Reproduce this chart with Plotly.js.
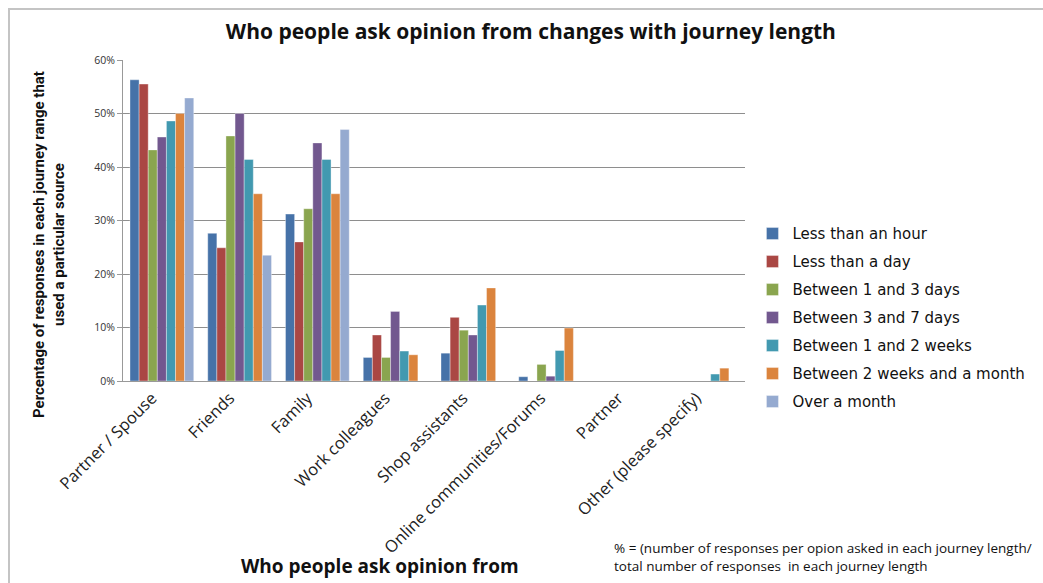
<!DOCTYPE html>
<html>
<head>
<meta charset="utf-8">
<script src="https://cdn.plot.ly/plotly-3.0.1.min.js"></script>
<style>
html,body{margin:0;padding:0;background:#fff;}
#wrap{position:relative;width:1043px;height:583px;overflow:hidden;}
#frame{position:absolute;left:8px;top:8px;width:1100px;height:700px;border:2px solid #c4c4c4;box-sizing:border-box;}
#chart{position:absolute;left:0;top:0;width:1043px;height:583px;}
</style>
</head>
<body>
<div id="wrap"><div id="frame"></div><div id="chart"></div></div>
<script>
const categories = ["Partner / Spouse","Friends","Family","Work colleagues","Shop assistants","Online communities/Forums","Partner","Other (please specify)"];
const seriesNames = ["Less than an hour","Less than a day","Between 1 and 3 days","Between 3 and 7 days","Between 1 and 2 weeks","Between 2 weeks and a month","Over a month"];
const lessThanHour   = [0.563,0.276,0.312,0.044,0.052,0.008,0,0];
const lessThanDay    = [0.555,0.249,0.260,0.086,0.119,0,0,0];
const between1and3d  = [0.432,0.458,0.322,0.044,0.095,0.031,0,0];
const between3and7d  = [0.456,0.500,0.445,0.130,0.086,0.009,0,0];
const between1and2w  = [0.486,0.414,0.414,0.056,0.142,0.057,0,0.013];
const between2wand1m = [0.500,0.350,0.350,0.049,0.174,0.099,0,0.024];
const overMonth      = [0.529,0.235,0.470,0,0,0,0,0];
const yTickVals = [0,0.1,0.2,0.3,0.4,0.5,0.6];
const yTickText = ["0%","10%","20%","30%","40%","50%","60%"];

const seriesValues = [lessThanHour,lessThanDay,between1and3d,between3and7d,between1and2w,between2wand1m,overMonth];
const colors = ["#4672A8","#AA4744","#8AA54F","#72588F","#4299B0","#DB843D","#95AAD0"];

const traces = seriesValues.map((vals,i)=>({
  type:"bar",
  name:seriesNames[i],
  x:categories,
  y:vals,
  legendgroup:"g"+i,
  marker:{color:colors[i],line:{color:"rgba(255,255,255,0.6)",width:0.6}},
  hoverinfo:"x+y+name"
}));

const layout = {
  width:1043,height:583,
  paper_bgcolor:"rgba(0,0,0,0)",
  plot_bgcolor:"rgba(0,0,0,0)",
  margin:{l:123,r:298,t:60,b:202,autoexpand:false},
  barmode:"group",
  bargap:0.18,
  bargroupgap:0,
  font:{family:"Open Sans, sans-serif",color:"#111"},
  title:{text:"<b>Who people ask opinion from changes with journey length</b>",
         font:{family:"Open Sans, sans-serif",size:21,color:"#111"},
         x:0.509,xanchor:"center",y:0.945,yanchor:"middle"},
  xaxis:{
    type:"category",
    tickangle:-45,
    ticklabelshift:-10,
    tickfont:{family:"Open Sans, sans-serif",size:16.5,color:"#222"},
    showline:true,linecolor:"#999",linewidth:1,
    ticks:"",showgrid:false
  },
  yaxis:{
    range:[0,0.6],
    tickvals:yTickVals,ticktext:yTickText,
    tickfont:{family:"Open Sans, sans-serif",size:10.5,color:"#333"},
    showgrid:true,gridcolor:"#8e8e8e",gridwidth:1,
    showline:true,linecolor:"#999",linewidth:1,
    ticks:"outside",ticklen:5,tickcolor:"#999",
    zeroline:false
  },
  legend:{
    x:1.012,xanchor:"left",y:0.51,yanchor:"top",
    font:{family:"DejaVu Sans, sans-serif",size:15,color:"#111"},
    tracegroupgap:5.5,
    bgcolor:"rgba(0,0,0,0)"
  },
  annotations:[
    {text:"<b>Who people ask opinion from</b>",xref:"paper",yref:"paper",
     x:(380-123)/622,y:-(566-381)/321,xanchor:"center",yanchor:"middle",showarrow:false,
     font:{family:"Open Sans, sans-serif",size:19,color:"#111"}},
    {text:"<b>Percentage of responses in each journey range that<br>used a particular source</b>",
     xref:"paper",yref:"paper",x:-(123-49)/622,y:(381-245)/321,textangle:-90,
     xanchor:"center",yanchor:"middle",showarrow:false,
     font:{family:"Roboto, sans-serif",size:15,color:"#111"}},
    {text:"% = (number of responses per opion asked in each journey length/<br>total number of responses  in each journey length",
     xref:"paper",yref:"paper",x:(612-123)/622,y:-(557-381)/321,xanchor:"left",yanchor:"middle",align:"left",
     showarrow:false,font:{family:"Open Sans, sans-serif",size:13.5,color:"#111"}}
  ]
};
Plotly.newPlot("chart",traces,layout,{displayModeBar:false,responsive:false});
</script>
</body>
</html>
